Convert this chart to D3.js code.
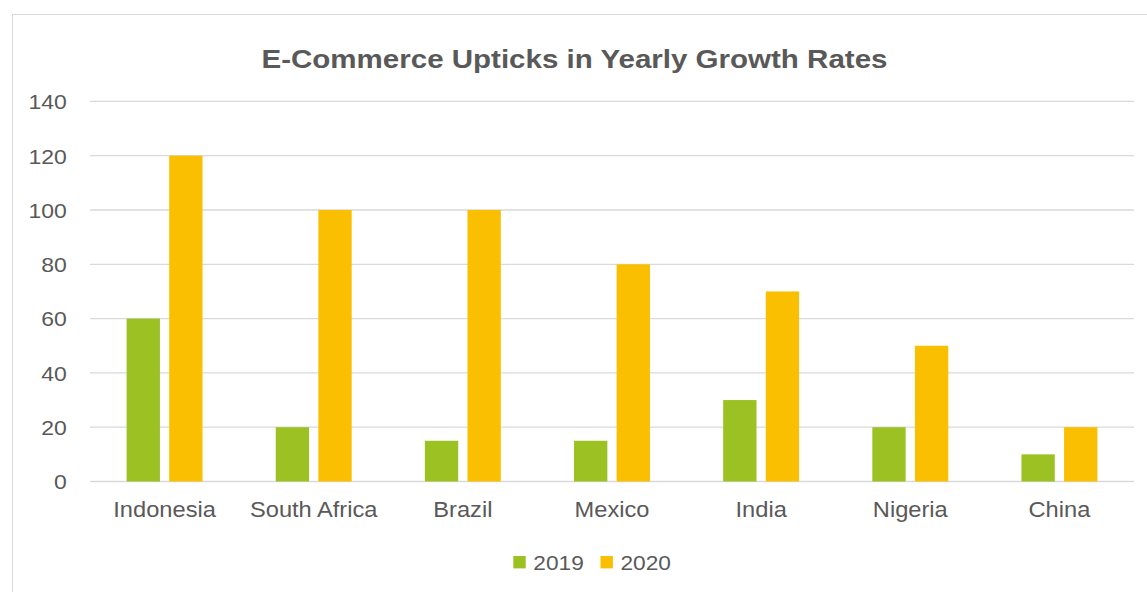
<!DOCTYPE html>
<html>
<head>
<meta charset="utf-8">
<script src="https://cdn.jsdelivr.net/npm/d3@7"></script>
<style>
  html, body { margin: 0; padding: 0; background: #ffffff; }
  svg { display: block; font-family: "Liberation Sans", Arial, sans-serif; }
</style>
</head>
<body>
<svg id="chart" width="1147" height="592"></svg>
<script>
// Chart data
const categories = ["Indonesia", "South Africa", "Brazil", "Mexico", "India", "Nigeria", "China"];
const seriesNames = ["2019", "2020"];
const values2019 = [60, 20, 15, 15, 30, 20, 10];
const values2020 = [120, 100, 100, 80, 70, 50, 20];
const yTicks = [0, 20, 40, 60, 80, 100, 120, 140];
const colors = ["#9BC222", "#FABF00"];
const title = "E-Commerce Upticks in Yearly Growth Rates";

const seriesValues = [values2019, values2020];
const rows = categories.map((c, i) => ({ cat: c, vals: seriesValues.map(s => s[i]) }));

const svg = d3.select("#chart");
const plot = { left: 90, right: 1134, top: 101.4, bottom: 481.5 };
const textColor = "#595959";

// Widen glyphs slightly to the chart's wide label style
function widen(sel, factor) {
  sel.each(function () {
    const len = this.getComputedTextLength();
    d3.select(this)
      .attr("textLength", len * factor)
      .attr("lengthAdjust", "spacingAndGlyphs");
  });
}

// Chart frame
svg.append("rect")
  .attr("x", 12.5).attr("y", 14.5)
  .attr("width", 1160).attr("height", 600)
  .attr("fill", "#ffffff")
  .attr("stroke", "#D9D9D9").attr("stroke-width", 1);

// Title
const titleText = svg.append("text")
  .attr("x", 574.5).attr("y", 68.3)
  .attr("text-anchor", "middle")
  .attr("font-size", 25.6).attr("font-weight", "bold")
  .attr("fill", textColor)
  .text(title);
widen(titleText, 1.153);

const x0 = d3.scaleBand().domain(categories).range([plot.left, plot.right]).paddingInner(0).paddingOuter(0);
const x1 = d3.scaleBand().domain(seriesNames).range([0, x0.bandwidth()]).paddingInner(0.218).paddingOuter(0.859);
const y = d3.scaleLinear().domain([0, 140]).range([plot.bottom, plot.top]);

// Gridlines
svg.append("g")
  .selectAll("line")
  .data(yTicks)
  .join("line")
  .attr("x1", plot.left).attr("x2", plot.right)
  .attr("y1", d => y(d)).attr("y2", d => y(d))
  .attr("stroke", "#D9D9D9").attr("stroke-width", 1.3);

// Y axis labels
const yAxis = d3.axisLeft(y).tickValues(yTicks).tickSize(0).tickPadding(0);
const yg = svg.append("g").attr("transform", `translate(${plot.left - 23.3},0)`).call(yAxis);
yg.select(".domain").remove();
const yLabels = yg.selectAll("text")
  .attr("font-size", 20.5).attr("fill", textColor)
  .attr("font-family", "Liberation Sans, Arial, sans-serif")
  .attr("dy", "0.36em");
widen(yLabels, 1.12);

// Bars
const groups = svg.append("g")
  .selectAll("g")
  .data(rows)
  .join("g")
  .attr("transform", d => `translate(${x0(d.cat)},0)`);

groups.selectAll("rect")
  .data(d => d.vals.map((v, i) => ({ key: seriesNames[i], v, i })))
  .join("rect")
  .attr("x", d => x1(d.key))
  .attr("width", x1.bandwidth())
  .attr("y", d => y(d.v))
  .attr("height", d => y(0) - y(d.v))
  .attr("fill", d => colors[d.i]);

// X axis labels
const xAxis = d3.axisBottom(x0).tickSize(0).tickPadding(0);
const xg = svg.append("g").attr("transform", `translate(0,${plot.bottom})`).call(xAxis);
xg.select(".domain").remove();
const xLabels = xg.selectAll("text")
  .attr("y", 35.2).attr("dy", null)
  .attr("font-size", 21.5).attr("fill", textColor)
  .attr("font-family", "Liberation Sans, Arial, sans-serif");
widen(xLabels, 1.1);

// Legend
const legendItems = [
  { name: seriesNames[0], color: colors[0], x: 513.3 },
  { name: seriesNames[1], color: colors[1], x: 600.5 }
];
const lg = svg.append("g");
legendItems.forEach(it => {
  lg.append("rect")
    .attr("x", it.x).attr("y", 556)
    .attr("width", 12.4).attr("height", 12.4)
    .attr("fill", it.color);
  const t = lg.append("text")
    .attr("x", it.x + 20).attr("y", 570)
    .attr("font-size", 21).attr("fill", textColor)
    .text(it.name);
  widen(t, 1.08);
});
</script>
</body>
</html>
